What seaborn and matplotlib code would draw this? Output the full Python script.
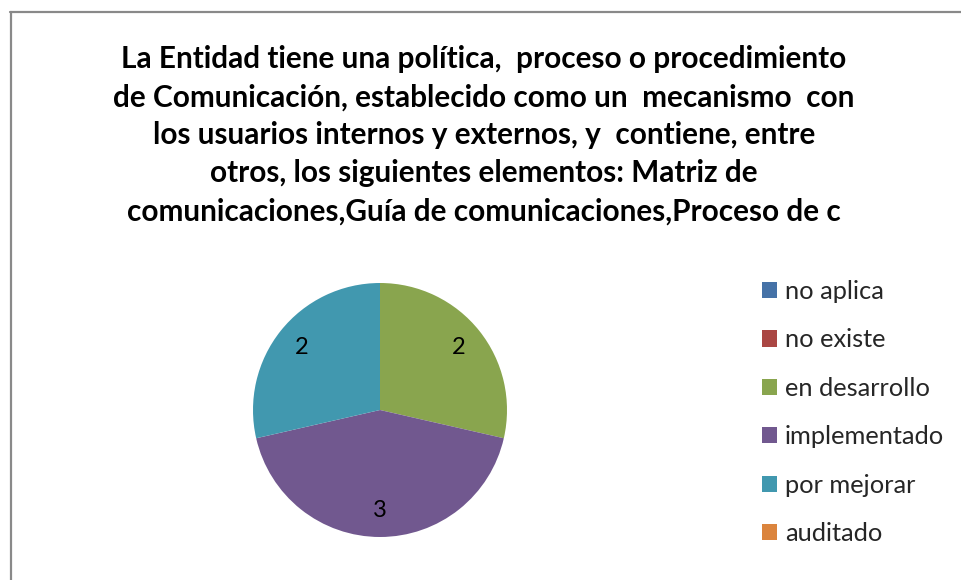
import matplotlib
matplotlib.use("Agg")
import matplotlib.pyplot as plt
from matplotlib.lines import Line2D
from matplotlib.patches import Patch
import seaborn as sns

# Survey response counts per status
categories = ["no aplica", "no existe", "en desarrollo", "implementado", "por mejorar", "auditado"]
counts = [0, 0, 2, 3, 2, 0]
colors = sns.color_palette(["#4572A7", "#AA4643", "#89A54E", "#71588F", "#4198AF", "#DB843D"])

title = ("La Entidad tiene una política,  proceso o procedimiento\n"
         "de Comunicación, establecido como un  mecanismo  con\n"
         "los usuarios internos y externos, y  contiene, entre\n"
         "otros, los siguientes elementos: Matriz de\n"
         "comunicaciones,Guía de comunicaciones,Proceso de c")

sns.set_theme(style="white")
plt.rcParams["font.family"] = ["Lato", "DejaVu Sans"]

W, H = 961, 580
fig = plt.figure(figsize=(W / 100, H / 100), dpi=100)
fig.patch.set_facecolor("white")

# chart frame (left and top edges)
fig.add_artist(Line2D([10.5 / W, 10.5 / W], [0, 1 - 12 / H], color="#898989", lw=1.6))
fig.add_artist(Line2D([10 / W, 1], [1 - 12 / H, 1 - 12 / H], color="#898989", lw=1.6))

fig.text(484 / W, 1 - 45 / H, title, ha="center", va="top", fontsize=21.4,
         fontweight="bold", linespacing=1.44, color="black")

# pie: centre (380, 410) px, radius 127 px
cx, cy, r = 380, 410, 127
ax = fig.add_axes([(cx - r) / W, 1 - (cy + r) / H, 2 * r / W, 2 * r / H])
shown = [(v, c) for v, c in zip(counts, colors) if v > 0]
vals = [v for v, _ in shown]
total = sum(vals)
wedges, texts, autotexts = ax.pie(
    vals, colors=[c for _, c in shown], startangle=90, counterclock=False,
    autopct=lambda p: f"{round(p * total / 100):d}", pctdistance=0.79,
    wedgeprops=dict(linewidth=0, edgecolor="none"),
    textprops=dict(fontsize=17, color="black"))
ax.set_xlim(-1, 1)
ax.set_ylim(-1, 1)
ax.set_aspect("equal")
ax.axis("off")

handles = [Patch(facecolor=c, edgecolor="none") for c in colors]
fig.legend(handles, categories, loc="upper left", bbox_to_anchor=(762 / W, 1 - 280 / H),
           frameon=False, fontsize=18.3, handlelength=0.6, handleheight=0.6,
           handletextpad=0.3, labelspacing=1.0, borderaxespad=0, borderpad=0)

fig.savefig("out.png", dpi=100, facecolor="white")
